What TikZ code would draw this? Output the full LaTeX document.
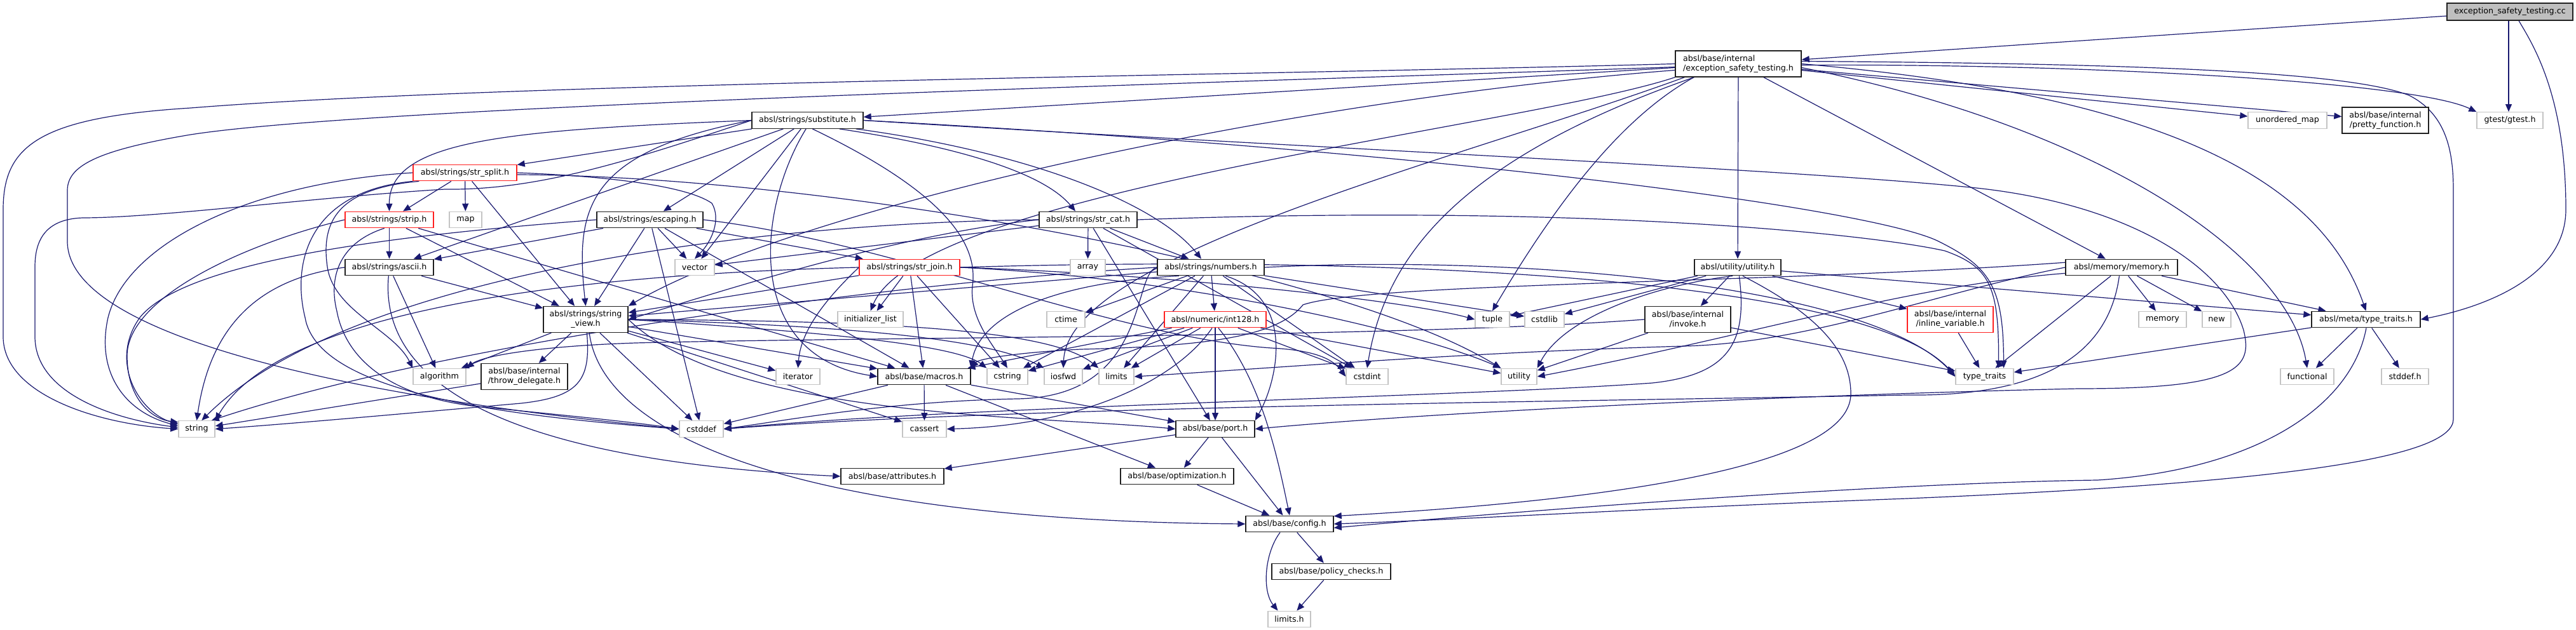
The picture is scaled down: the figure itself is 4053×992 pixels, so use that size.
\documentclass[tikz,border=0pt]{standalone}
\usepackage{fontspec}
\setmainfont{DejaVu Sans}
\usetikzlibrary{arrows.meta}
\definecolor{edgec}{HTML}{191970}
\definecolor{grayb}{HTML}{C4C4C4}
\definecolor{fillg}{HTML}{BFBFBF}
\definecolor{redb}{HTML}{FF2020}
\definecolor{blkb}{HTML}{202020}
\pgfdeclarelayer{bg}
\pgfsetlayers{bg,main}
\tikzset{
 basen/.style={rectangle, draw=blkb, line width=1.4pt, fill=white, inner sep=0pt, minimum height=25.5pt, font=\fontsize{12.65}{15}\selectfont, text=black, align=center},
 docn/.style={basen},
 extn/.style={basen, draw=grayb},
 trn/.style={basen, draw=redb},
 rootn/.style={basen, fill=fillg},
 talln/.style={minimum height=41pt},
 ed/.style={draw=edgec, line width=1.2pt, -{Triangle[length=12pt,width=10pt]}},
}
\begin{document}
\begin{tikzpicture}[x=1pt,y=1pt]
\useasboundingbox (0,0) rectangle (4053,-992);
% ---------- nodes
\node[rootn, minimum width=198, minimum height=27] (cc) at (3949,-18.5) {exception\_safety\_testing.cc};
\node[docn, talln, minimum width=198, align=left] (exch) at (2735,-100.5) {absl/base/internal\\/exception\_safety\_testing.h};
\node[docn, minimum width=175] (subst) at (1270.5,-189.5) {absl/strings/substitute.h};
\node[extn, minimum width=124] (umap) at (3599,-189.5) {unordered\_map};
\node[docn, talln, minimum width=136] (pretty) at (3753,-189.5) {absl/base/internal\\/pretty\_function.h};
\node[extn, minimum width=104] (gtest) at (3949,-189.5) {gtest/gtest.h};
\node[trn, minimum width=163] (split) at (731.5,-272) {absl/strings/str\_split.h};
\node[trn, minimum width=139] (strip) at (612.5,-346) {absl/strings/strip.h};
\node[extn, minimum width=51] (map) at (732.5,-346) {map};
\node[docn, minimum width=167] (escaping) at (1022.5,-346) {absl/strings/escaping.h};
\node[docn, minimum width=154] (strcat) at (1712,-346) {absl/strings/str\_cat.h};
\node[docn, minimum width=139] (ascii) at (612.5,-421) {absl/strings/ascii.h};
\node[extn, minimum width=62] (vector) at (1093,-421) {vector};
\node[trn, minimum width=158] (join) at (1431,-421) {absl/strings/str\_join.h};
\node[extn, minimum width=55] (array) at (1711.5,-421) {array};
\node[docn, minimum width=168] (numbers) at (1905,-421) {absl/strings/numbers.h};
\node[docn, minimum width=136] (utilh) at (2734,-421) {absl/utility/utility.h};
\node[docn, minimum width=176] (memh) at (3338,-421) {absl/memory/memory.h};
\node[docn, talln, minimum width=133] (sv) at (921.5,-503) {absl/strings/string\\\_view.h};
\node[extn, minimum width=103] (initl) at (1369.5,-503) {initializer\_list};
\node[extn, minimum width=60] (ctime) at (1677,-503) {ctime};
\node[trn, minimum width=160] (int128) at (1912,-503) {absl/numeric/int128.h};
\node[extn, minimum width=54] (tuple) at (2348,-503) {tuple};
\node[extn, minimum width=62] (cstdlib) at (2430,-503) {cstdlib};
\node[docn, talln, minimum width=135] (invoke) at (2655.5,-503) {absl/base/internal\\/invoke.h};
\node[trn, talln, minimum width=135] (inlinev) at (3068.5,-503) {absl/base/internal\\/inline\_variable.h};
\node[extn, minimum width=75] (memory) at (3402.5,-503) {memory};
\node[extn, minimum width=45] (newh) at (3487.5,-503) {new};
\node[docn, minimum width=171] (metatt) at (3722.5,-503) {absl/meta/type\_traits.h};
\node[extn, minimum width=83] (algorithm) at (691.5,-593) {algorithm};
\node[docn, talln, minimum width=136] (throwd) at (825,-593) {absl/base/internal\\/throw\_delegate.h};
\node[extn, minimum width=69] (iterator) at (1255.5,-593) {iterator};
\node[docn, minimum width=146] (macros) at (1454,-593) {absl/base/macros.h};
\node[extn, minimum width=64] (cstring) at (1585,-593) {cstring};
\node[extn, minimum width=60] (iosfwd) at (1673,-593) {iosfwd};
\node[extn, minimum width=55] (limits) at (1756.5,-593) {limits};
\node[extn, minimum width=66] (cstdint) at (2151,-593) {cstdint};
\node[extn, minimum width=56] (utility) at (2390,-593) {utility};
\node[extn, minimum width=91] (typetraits) at (3122.5,-593) {type\_traits};
\node[extn, minimum width=84] (functional) at (3630,-593) {functional};
\node[extn, minimum width=74] (stddefh) at (3784,-593) {stddef.h};
\node[extn, minimum width=57] (string) at (309.5,-675.5) {string};
\node[extn, minimum width=69] (cstddef) at (1103.5,-675.5) {cstddef};
\node[extn, minimum width=69] (cassert) at (1454.5,-675.5) {cassert};
\node[docn, minimum width=124] (port) at (1912,-675.5) {absl/base/port.h};
\node[docn, minimum width=162] (attributes) at (1404,-750) {absl/base/attributes.h};
\node[docn, minimum width=178] (optim) at (1852,-750) {absl/base/optimization.h};
\node[docn, minimum width=138] (config) at (2029,-825) {absl/base/config.h};
\node[docn, minimum width=187] (policy) at (2094.5,-900) {absl/base/policy\_checks.h};
\node[extn, minimum width=67] (limitsh) at (2028.5,-975) {limits.h};
% ---------- edges
\begin{pgfonlayer}{bg}
\fill[white] (0,0) rectangle (4053,-992);
% cc
\draw[ed] (cc) -- (exch);
\draw[ed] ([xshift=-2pt]cc.south) -- ([xshift=-2pt]gtest.north);
\draw[ed] ([xshift=14pt]cc.south) .. controls (3985,-70) and (4037,-150) .. (4037,-330) .. controls (4037,-440) and (3900,-485) .. (metatt.east);
% exception_safety_testing.h
\draw[ed] (exch.west) .. controls (2000,-118) and (800,-130) .. (300,-170) .. controls (60,-185) and (5,-230) .. (5,-330) -- (5,-530) .. controls (5,-620) and (150,-667) .. (string.west);
\draw[ed] ([yshift=-5pt]exch.west) .. controls (2000,-128) and (600,-165) .. (300,-212) .. controls (150,-237) and (106,-262) .. (106,-300) -- (106,-380) .. controls (106,-520) and (500,-620) .. (cstddef.west);
\draw[ed] (exch) -- (subst);
\draw[ed] ([yshift=-10pt]exch.west) .. controls (2000,-160) and (1250,-330) .. (sv.north east);
\draw[ed] (exch.south west) .. controls (2400,-200) and (1450,-300) .. (initl.north);
\draw[ed] ([xshift=15pt]exch.south west) .. controls (2300,-250) and (1680,-400) .. (iosfwd.north);
\draw[ed] ([xshift=30pt]exch.south west) .. controls (2300,-250) and (2180,-400) .. (cstdint.north);
\draw[ed] ([xshift=-70pt]exch.south) .. controls (2560,-180) and (2460,-300) .. (tuple.north);
\draw[ed] (exch) -- (utilh);
\draw[ed] (exch) -- (memh);
\draw[ed] (exch.east) .. controls (3400,-150) and (3650,-280) .. (metatt.north);
\draw[ed] ([yshift=-6pt]exch.east) .. controls (3300,-200) and (3600,-400) .. (functional.north);
\draw[ed] (exch) -- (umap);
\draw[ed] (exch) -- (pretty);
\draw[ed] ([yshift=-2pt]exch.east) .. controls (3300,-100) and (3800,-130) .. (gtest.north west);
\draw[ed] ([yshift=4pt]exch.east) .. controls (3400,-100) and (3700,-115) .. (3790,-150) .. controls (3850,-180) and (3860,-240) .. (3860,-300) -- (3860,-660) .. controls (3860,-720) and (3600,-760) .. (3000,-785) .. controls (2600,-800) and (2300,-818) .. (config.east);
% substitute.h
\draw[ed] (subst) -- (split);
\draw[ed] (subst.west) .. controls (800,-205) and (612,-220) .. (strip.north);
\draw[ed] (subst) -- (ascii);
\draw[ed] (subst) -- (escaping);
\draw[ed] (subst) -- (vector);
\draw[ed] (subst.west) .. controls (920,-240) and (905,-330) .. (sv.north);
\draw[ed] (subst.-100) .. controls (1190,-330) and (1170,-560) .. (macros.west);
\draw[ed] (subst.east) .. controls (2000,-230) and (2800,-265) .. (3100,-295) .. controls (3350,-320) and (3500,-420) .. (3530,-520) .. controls (3545,-580) and (3520,-612) .. (3270,-612) .. controls (2900,-620) and (2300,-645) .. (port.east);
\draw[ed] (subst.-60) .. controls (1480,-300) and (1540,-380) .. (1530,-450) .. controls (1525,-500) and (1560,-540) .. (cstring.north);
\draw[ed] (subst.-15) .. controls (1500,-230) and (1640,-270) .. ([xshift=-20pt]strcat.north);
\draw[ed] (subst.-10) .. controls (1620,-240) and (1820,-320) .. ([xshift=-15pt]numbers.north);
\draw[ed] (subst.west) .. controls (1000,-250) and (850,-300) .. (700,-298) .. controls (500,-310) and (250,-343) .. (130,-343) .. controls (70,-345) and (55,-380) .. (55,-420) -- (55,-530) .. controls (55,-620) and (180,-660) .. (string.175);
\draw[ed] (subst.east) .. controls (2300,-240) and (2950,-330) .. (3050,-380) .. controls (3130,-420) and (3152,-450) .. ([xshift=30pt]typetraits.north);
% str_split.h
\draw[ed] (split) -- (strip);
\draw[ed] (split) -- (map);
\draw[ed] (split) -- (sv);
\draw[ed] (split.west) .. controls (400,-287) and (200,-380) .. (170,-500) .. controls (150,-590) and (200,-650) .. (string.170);
\draw[ed] (split.south west) .. controls (480,-302) and (460,-420) .. (480,-500) .. controls (500,-620) and (800,-655) .. (cstddef.west);
\draw[ed] ([xshift=10pt]split.south west) .. controls (530,-297) and (505,-350) .. (515,-420) .. controls (525,-490) and (620,-520) .. (algorithm.north west);
\draw[ed] (split.east) .. controls (950,-277) and (1080,-292) .. (1120,-320) .. controls (1135,-345) and (1120,-380) .. (vector.north);
\draw[ed] ([yshift=-3pt]split.east) .. controls (1300,-277) and (2100,-420) .. (utility.north west);
% strip.h
\draw[ed] (strip) -- (ascii);
\draw[ed] (strip) -- (sv);
\draw[ed] (strip) -- (macros);
\draw[ed] (strip.-120) .. controls (540,-380) and (515,-430) .. (530,-490) .. controls (545,-570) and (620,-625) .. (750,-640) .. controls (900,-655) and (1000,-665) .. (cstddef.west);
\draw[ed] (strip.west) .. controls (380,-385) and (200,-470) .. (200,-560) .. controls (200,-630) and (240,-660) .. (string.160);
% ascii.h
\draw[ed] (ascii) -- (algorithm);
\draw[ed] (ascii.-95) .. controls (600,-560) and (700,-720) .. (attributes.west);
\draw[ed] (ascii) -- (sv);
\draw[ed] (ascii.west) .. controls (400,-440) and (330,-520) .. (string.north);
% escaping.h
\draw[ed] (escaping) -- (vector);
\draw[ed] (escaping) -- (join);
\draw[ed] (escaping) -- (ascii);
\draw[ed] (escaping) -- (sv);
\draw[ed] (escaping) -- (macros);
\draw[ed] (escaping) -- (cstddef);
\draw[ed] (escaping.east) .. controls (1400,-380) and (1750,-530) .. (2000,-548) .. controls (2080,-552) and (2100,-570) .. (cstdint.west);
\draw[ed] (escaping.west) .. controls (700,-365) and (300,-400) .. (220,-500) .. controls (170,-570) and (220,-650) .. (string.165);
% str_join.h
\draw[ed] (join) -- (initl);
\draw[ed] (join) -- (sv);
\draw[ed] (join.west) .. controls (1300,-470) and (1260,-520) .. (iterator.north);
\draw[ed] (join) -- (macros);
\draw[ed] (join) -- (cstring);
\draw[ed] (join.west) .. controls (1000,-430) and (450,-470) .. (string.north east);
\draw[ed] (join.east) .. controls (1800,-430) and (2200,-470) .. (tuple.west);
\draw[ed] (join.east) .. controls (1900,-440) and (2250,-530) .. (utility.north west);
\draw[ed] (join.east) .. controls (2200,-400) and (2950,-440) .. (typetraits.west);
% str_cat.h
\draw[ed] (strcat) -- (array);
\draw[ed] (strcat) -- (cstdint);
\draw[ed] (strcat.west) .. controls (1200,-350) and (550,-430) .. (string.60);
\draw[ed] (strcat.east) .. controls (2500,-320) and (2950,-370) .. (3060,-395) .. controls (3130,-420) and (3145,-450) .. ([xshift=22pt]typetraits.north);
\draw[ed] (strcat) -- (port);
\draw[ed] (strcat) -- (numbers);
\draw[ed] (strcat.west) .. controls (1400,-370) and (1100,-470) .. (sv.east);
\draw[ed] (strcat) -- (vector);
% numbers.h
\draw[ed] (numbers.west) .. controls (1780,-430) and (1810,-625) .. (1600,-628) .. controls (1400,-632) and (1250,-660) .. (cstddef.east);
\draw[ed] (numbers) -- (cstdlib);
\draw[ed] (numbers) -- (cstring);
\draw[ed] (numbers) -- (ctime);
\draw[ed] (numbers) -- (limits);
\draw[ed] (numbers.west) .. controls (1400,-445) and (700,-540) .. (string.30);
\draw[ed] (numbers.east) .. controls (2400,-400) and (2950,-450) .. (typetraits.west);
\draw[ed] (numbers.-165) .. controls (1650,-445) and (1540,-500) .. (macros.north east);
\draw[ed] (numbers.-30) .. controls (2040,-470) and (2010,-600) .. (port.north east);
\draw[ed] (numbers) -- (int128);
\draw[ed] (numbers) -- (sv);
\draw[ed] (numbers) -- (cstdint);
% int128.h
\draw[ed] (int128.-110) .. controls (1850,-600) and (1700,-670) .. (cassert.east);
\draw[ed] (int128) -- (cstdint);
\draw[ed] (int128) -- (cstring);
\draw[ed] (int128) -- (iosfwd);
\draw[ed] (int128) -- (limits);
\draw[ed] (int128) -- (utility);
\draw[ed] (int128.-70) .. controls (1985,-600) and (2010,-720) .. (config.north);
\draw[ed] (int128) -- (macros);
\draw[ed] (int128) -- (port);
% string_view.h
\draw[ed] (sv) -- (algorithm);
\draw[ed] (sv) -- (cassert);
\draw[ed] (sv) -- (cstddef);
\draw[ed] (sv.east) .. controls (1250,-520) and (1500,-540) .. (cstring.north west);
\draw[ed] (sv.east) .. controls (1300,-512) and (1550,-530) .. (iosfwd.north west);
\draw[ed] (sv.east) .. controls (1350,-505) and (1650,-515) .. (limits.north west);
\draw[ed] (sv) -- (iterator);
\draw[ed] (sv.-85) .. controls (930,-600) and (910,-625) .. (820,-635) .. controls (650,-650) and (450,-668) .. (string.east);
\draw[ed] (sv) -- (throwd);
\draw[ed] (sv) -- (macros);
\draw[ed] (sv.east) .. controls (1150,-660) and (1650,-655) .. (port.west);
\draw[ed] (sv.-75) .. controls (950,-700) and (1300,-820) .. (config.west);
\draw[ed] (throwd) -- (string);
% macros.h
\draw[ed] (macros) -- (cassert);
\draw[ed] (macros) -- (cstddef);
\draw[ed] (macros) -- (port);
\draw[ed] (macros) -- (optim);
% port.h and below
\draw[ed] (port) -- (attributes);
\draw[ed] (port) -- (optim);
\draw[ed] (port) -- (config);
\draw[ed] (optim) -- (config);
\draw[ed] (config) -- (policy);
\draw[ed] ([xshift=-15pt]config.south) .. controls (1990,-870) and (1985,-930) .. ([xshift=-18pt]limitsh.north);
\draw[ed] (policy) -- (limitsh);
% utility.h
\draw[ed] (utilh.-80) .. controls (2750,-540) and (2720,-590) .. (2600,-603) .. controls (2300,-625) and (1500,-640) .. (cstddef.east);
\draw[ed] (utilh) -- (cstdlib);
\draw[ed] (utilh) -- (tuple);
\draw[ed] (utilh.-120) .. controls (2600,-450) and (2460,-500) .. (utility.north east);
\draw[ed] (utilh.-60) .. controls (2870,-500) and (2912,-560) .. (2912,-620) .. controls (2912,-740) and (2500,-790) .. (config.10);
\draw[ed] (utilh) -- (inlinev);
\draw[ed] (utilh) -- (invoke);
\draw[ed] (utilh) -- (metatt);
% invoke.h
\draw[ed] (invoke.west) .. controls (2200,-532) and (1400,-530) .. (1000,-540) .. controls (850,-545) and (760,-560) .. (algorithm.north east);
\draw[ed] (invoke) -- (typetraits);
\draw[ed] (invoke) -- (utility);
\draw[ed] (inlinev) -- (typetraits);
% memory.h
\draw[ed] (memh.-105) .. controls (3320,-540) and (3240,-625) .. (3000,-622) .. controls (2500,-632) and (1600,-640) .. (cstddef.east);
\draw[ed] (memh.180) .. controls (3050,-460) and (2850,-540) .. (2650,-545) .. controls (2300,-555) and (2000,-580) .. (limits.east);
\draw[ed] (memh) -- (memory);
\draw[ed] (memh) -- (newh);
\draw[ed] (memh) -- (typetraits);
\draw[ed] (memh.186) .. controls (3000,-450) and (2750,-530) .. (utility.east);
\draw[ed] (memh.175) .. controls (2800,-446) and (2150,-445) .. (2050,-480) .. controls (2010,-530) and (1900,-545) .. (1700,-550) .. controls (1600,-555) and (1540,-565) .. (macros.north east);
\draw[ed] (memh) -- (metatt);
% meta/type_traits.h
\draw[ed] (metatt) -- (stddefh);
\draw[ed] (metatt) -- (functional);
\draw[ed] (metatt) -- (typetraits);
\draw[ed] (metatt.-88) .. controls (3700,-640) and (3550,-740) .. (3300,-756) .. controls (3000,-760) and (2500,-795) .. (config.-5);
\end{pgfonlayer}
\end{tikzpicture}
\end{document}
